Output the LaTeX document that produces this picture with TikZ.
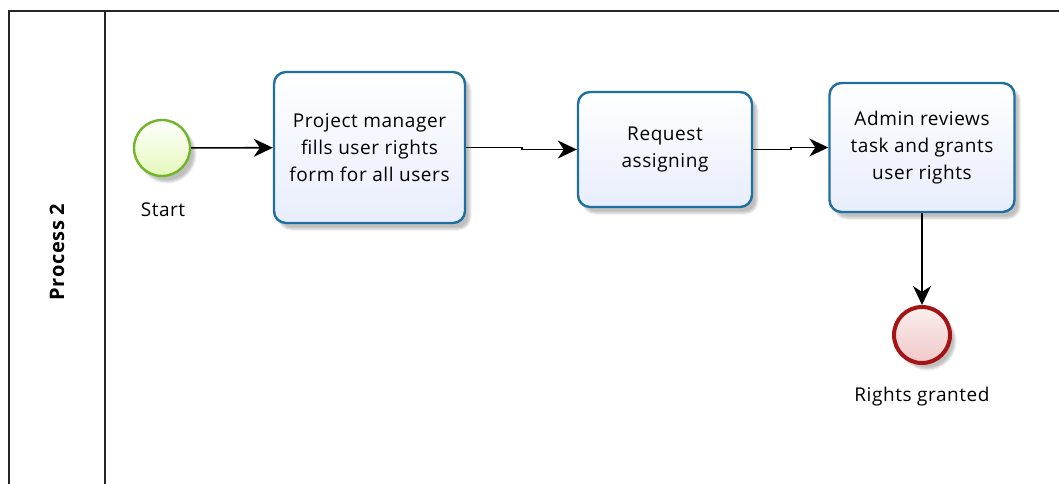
\documentclass[tikz,border=0pt]{standalone}
\usepackage{fontspec}
\setmainfont{Open Sans}[LetterSpace=3]
\usetikzlibrary{arrows.meta,shadows.blur}

\definecolor{taskline}{RGB}{31,112,160}
\definecolor{taskfill}{RGB}{232,237,252}
\definecolor{startline}{RGB}{112,180,40}
\definecolor{startfill}{RGB}{228,248,185}
\definecolor{endline}{RGB}{165,20,20}
\definecolor{endfill}{RGB}{240,200,200}

\tikzset{
    task/.style={draw=taskline, line width=2.4pt, rounded corners=12pt,
        top color=white, bottom color=taskfill, align=center,
        font=\fontsize{19}{27}\selectfont,
        blur shadow={shadow xshift=5pt, shadow yshift=-6pt, shadow opacity=25}},
    startev/.style={circle, draw=startline, line width=2.4pt, minimum size=56pt,
        inner sep=0pt, top color=white, bottom color=startfill,
        blur shadow={shadow xshift=5pt, shadow yshift=-6pt, shadow opacity=25}},
    endev/.style={circle, draw=endline, line width=4pt, minimum size=56pt,
        inner sep=0pt, top color=white!70!endfill, bottom color=endfill,
        blur shadow={shadow xshift=5pt, shadow yshift=-6pt, shadow opacity=25}},
    lbl/.style={font=\fontsize{19}{27}\selectfont},
    flow/.style={-{Stealth[length=19pt,width=18pt,inset=6pt]}, line width=1.6pt}
}

\begin{document}
\begin{tikzpicture}[x=1pt, y=-1pt]
    \useasboundingbox (0,0) rectangle (1059,484);

    % pool and lane
    \draw[line width=1.4pt, black!85] (1059,11) -- (9,11) -- (9,484);
    \draw[line width=1.4pt, black!85] (105,11) -- (105,484);
    \node (pool) at (57,252) [rotate=90, font=\fontsize{20}{22}\selectfont\bfseries] {Process 2};

    % events and tasks
    \node (start) at (162,148) [startev] {};
    \node (startlab) at (163,210) [lbl] {Start};

    \node (fill) at (369.5,147.5) [task, minimum width=191pt, minimum height=151pt] {Project manager\\fills user rights\\form for all users};
    \node (req) at (665,149.5) [task, minimum width=174pt, minimum height=115pt] {Request\\assigning};
    \node (admin) at (922,147.5) [task, minimum width=185pt, minimum height=129pt] {Admin reviews\\task and grants\\user rights};

    \node (done) at (922,335) [endev] {};
    \node (donelab) at (922,397) [lbl] {Rights granted};

    % sequence flows
    \draw[flow] (start) -- (fill);
    \draw[flow] (fill.east) -- ++(56,0) |- (req.west);
    \draw[flow] (req.east) -- ++(38,0) |- (admin.west);
    \draw[flow] (admin) -- (done);
\end{tikzpicture}
\end{document}
